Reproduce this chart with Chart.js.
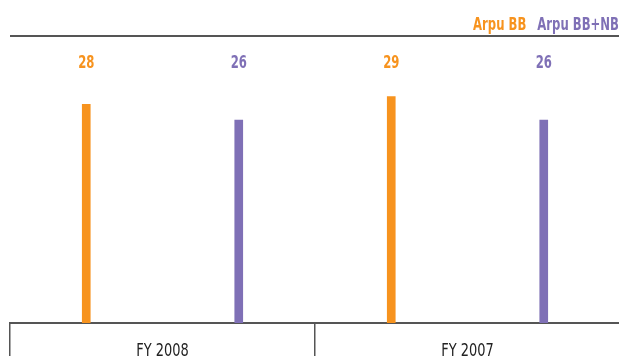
<!DOCTYPE html>
<html>
<head>
<meta charset="utf-8">
<script src="https://cdn.jsdelivr.net/npm/chart.js@4/dist/chart.umd.min.js"></script>
<style>
  html, body { margin: 0; padding: 0; background: #fff; overflow: hidden; }
  #wrap { width: 619px; height: 356px; position: relative; overflow: hidden; }
</style>
</head>
<body>
<div id="wrap"><canvas id="c" width="620" height="356"></canvas></div>
<script>
// Fiscal years on the category axis
const categories = ['FY 2008', 'FY 2007'];
// Average revenue per user, broadband only and broadband + narrowband
const arpuBB = [28, 29];
const arpuBBNB = [26, 26];
const seriesNames = ['Arpu BB', 'Arpu BB+NB'];

const ORANGE = '#F7931E';
const PURPLE = '#7F70B6';
const LINE = '#555555';
const FONT = "'Liberation Sans Narrow', 'DejaVu Sans Condensed', sans-serif";

// Draws text squeezed horizontally for a gothic, condensed look
function condensedText(ctx, text, x, y, align, squeeze) {
  ctx.save();
  ctx.translate(x, y);
  ctx.scale(squeeze, 1);
  ctx.textAlign = align;
  ctx.fillText(text, 0, 0);
  const w = ctx.measureText(text).width * squeeze;
  ctx.restore();
  return w;
}

// Header rule, legend, value labels and category labels
const decorations = {
  id: 'decorations',
  afterDatasetsDraw(chart) {
    const ctx = chart.ctx;
    ctx.save();
    ctx.strokeStyle = LINE;
    ctx.lineWidth = 2;
    ctx.beginPath();
    ctx.moveTo(10, 36);
    ctx.lineTo(chart.width, 36);
    ctx.stroke();

    // value labels, all on one row above the bars
    ctx.font = 'bold 18px ' + FONT;
    ctx.textBaseline = 'alphabetic';
    chart.data.datasets.forEach((ds, i) => {
      chart.getDatasetMeta(i).data.forEach((bar, j) => {
        ctx.fillStyle = ds.backgroundColor;
        condensedText(ctx, String(ds.data[j]), bar.x, 67.5, 'center', 0.72);
      });
    });

    // legend, right aligned to the visible edge
    ctx.font = 'bold 18px ' + FONT;
    let x = 619;
    chart.data.datasets.slice().reverse().forEach(ds => {
      ctx.fillStyle = ds.backgroundColor;
      const w = condensedText(ctx, ds.label, x, 29.5, 'right', 0.72);
      x -= w + 11;
    });

    // category labels under the axis
    const xs = chart.scales.x;
    ctx.font = '18px ' + FONT;
    ctx.fillStyle = '#222';
    chart.data.labels.forEach((lab, i) => {
      condensedText(ctx, lab, xs.getPixelForValue(i), 355.5, 'center', 0.8);
    });
    ctx.restore();
  }
};

new Chart(document.getElementById('c'), {
  type: 'bar',
  data: {
    labels: categories,
    datasets: [
      { label: seriesNames[0], data: arpuBB, backgroundColor: ORANGE },
      { label: seriesNames[1], data: arpuBBNB, backgroundColor: PURPLE }
    ]
  },
  options: {
    responsive: false,
    animation: false,
    devicePixelRatio: 1,
    layout: { padding: { left: 10, right: 0, top: 42, bottom: 0 } },
    plugins: { legend: { display: false }, tooltip: { enabled: false } },
    datasets: { bar: { maxBarThickness: 8, categoryPercentage: 1, barPercentage: 1 } },
    scales: {
      x: {
        offset: true,
        grid: {
          offset: true,
          drawOnChartArea: false,
          drawTicks: true,
          tickLength: 40,
          color: LINE,
          lineWidth: 1.5
        },
        border: { display: true, color: LINE, width: 2 },
        ticks: { display: false },
        afterFit(scale) { scale.height = 33; }
      },
      y: {
        display: false,
        min: 0,
        max: 36
      }
    }
  },
  plugins: [decorations]
});
</script>
</body>
</html>
